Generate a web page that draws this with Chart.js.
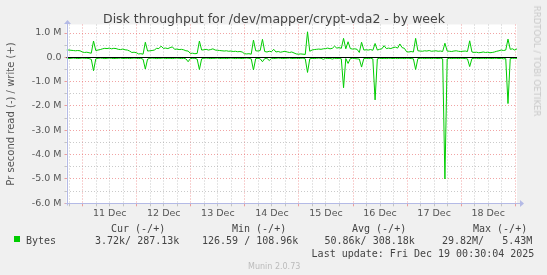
<!DOCTYPE html>
<html><head><meta charset="utf-8">
<script src="https://cdn.jsdelivr.net/npm/chart.js@4/dist/chart.umd.min.js"></script>
<style>
html,body{margin:0;padding:0;background:#f0f0f0;}
#wrap{position:relative;width:547px;height:275px;overflow:hidden;background:#f0f0f0;font-family:"DejaVu Sans",sans-serif;}
#c{position:absolute;left:0;top:0;}
.m{position:absolute;white-space:pre;font-family:"DejaVu Sans Mono",monospace;font-size:10px;line-height:12px;color:#444;}
#title{position:absolute;left:0;top:11px;width:548px;text-align:center;font-size:12.5px;line-height:15px;color:#444;white-space:pre;}
#ytitle{position:absolute;left:11px;top:114px;transform:translate(-50%,-50%) rotate(-90deg);font-size:10px;line-height:12px;color:#555;white-space:pre;}
#rrd{position:absolute;left:537px;top:61px;transform:translate(-50%,-50%) rotate(90deg);font-size:8.6px;line-height:10px;color:#c8c8c8;white-space:pre;}
#munin{position:absolute;left:248px;top:262px;font-size:8px;line-height:10px;color:#bbb;white-space:pre;}
#sq{position:absolute;left:14px;top:236px;width:6px;height:6px;background:#00cc00;}
</style>
</head><body>
<div id="wrap">
<canvas id="c" width="547" height="275"></canvas>
<div id="title">Disk throughput for /dev/mapper/crypt-vda2 - by week</div>
<div id="ytitle">Pr second read (-) / write (+)</div>
<div id="rrd">RRDTOOL / TOBI OETIKER</div>
<div id="sq"></div>
<div id="munin">Munin 2.0.73</div>
</div>
<script>
// hours relative to 11 Dec 00:00 of the first sample, one sample per hour
const START_H = -7.2;
const END_H = 192.8;
const dayLabels = ['11 Dec','12 Dec','13 Dec','14 Dec','15 Dec','16 Dec','17 Dec','18 Dec'];
const yTickLabels = ['-6.0 M','-5.0 M','-4.0 M','-3.0 M','-2.0 M','-1.0 M','0.0','1.0 M'];
const headers = ['Cur (-/+)','Min (-/+)','Avg (-/+)','Max (-/+)'];
const seriesName = 'Bytes';
const stats = ['3.72k/ 287.13k','126.59 / 108.96k','50.86k/ 308.18k','29.82M/   5.43M'];
const lastUpdate = 'Last update: Fri Dec 19 00:30:04 2025';

// write (+), MB/s
const writeVals = [
0.30,0.30,0.29,0.28,0.27,0.28,0.27,
0.22,0.20,0.21,0.19,0.17,
0.67,
0.28,0.30,0.32,0.35,
0.37,0.36,0.38,0.35,0.37,0.36,
0.33,0.32,0.34,0.31,0.30,
0.26,
0.20,0.21,0.19,
0.14,0.15,0.13,
0.62,
0.26,
0.27,0.28,0.30,
0.37,0.36,
0.46,
0.37,0.38,0.36,0.40,
0.43,
0.33,0.34,0.32,0.33,0.31,
0.27,0.26,
0.16,0.17,0.15,0.16,
0.67,
0.30,0.31,0.33,0.30,0.32,0.35,
0.30,0.29,0.28,0.27,0.26,0.27,0.25,0.26,0.24,0.25,0.23,0.24,0.22,
0.15,0.14,0.15,0.13,
0.71,
0.27,0.26,0.28,
0.74,
0.24,0.22,0.25,0.23,
0.33,
0.22,0.24,0.21,0.23,0.25,0.22,0.20,0.22,0.18,0.14,0.13,
0.14,0.13,0.12,
1.05,
0.25,0.30,0.32,0.33,0.34,0.33,0.35,
0.36,0.38,0.35,0.37,0.46,0.38,0.40,0.37,
0.78,
0.35,
0.64,
0.36,0.34,0.35,0.33,0.20,
0.62,
0.30,0.31,0.30,0.32,0.29,
0.57,
0.30,0.33,0.35,0.48,0.36,0.38,0.36,
0.40,0.42,0.38,0.55,0.40,0.37,
0.23,0.22,0.24,0.22,
0.78,
0.27,0.26,0.25,0.27,0.26,0.28,0.25,0.26,0.27,0.25,0.26,0.24,
0.58,
0.26,0.25,0.24,0.26,0.27,0.25,0.24,0.25,0.26,0.24,
0.68,
0.22,0.20,0.21,0.19,0.20,0.22,0.20,0.21,0.19,0.20,0.22,0.25,0.27,
0.30,0.28,0.30,
0.75,
0.33,0.35,0.30,0.35
];
// read (-), MB/s
const readVals = [
-0.04,-0.05,-0.04,-0.03,-0.04,-0.05,-0.04,-0.03,-0.04,-0.04,
-0.05,-0.08,-0.55,-0.06,-0.04,-0.03,-0.04,-0.05,-0.04,-0.03,
-0.04,-0.05,-0.04,-0.04,-0.03,-0.05,-0.04,-0.04,-0.05,-0.04,
-0.03,-0.04,-0.05,-0.04,-0.08,-0.48,-0.07,-0.04,-0.03,-0.04,
-0.05,-0.04,-0.04,-0.03,-0.05,-0.04,-0.04,-0.05,-0.04,-0.03,
-0.04,-0.05,-0.04,-0.06,-0.18,-0.05,-0.04,-0.04,-0.07,-0.50,
-0.06,-0.04,-0.03,-0.04,-0.05,-0.04,-0.04,-0.03,-0.05,-0.04,
-0.04,-0.05,-0.04,-0.03,-0.04,-0.05,-0.04,-0.04,-0.05,-0.04,
-0.03,-0.04,-0.06,-0.52,-0.05,-0.04,-0.06,-0.18,-0.05,-0.04,
-0.13,-0.04,-0.05,-0.04,-0.03,-0.04,-0.05,-0.04,-0.04,-0.03,
-0.05,-0.04,-0.04,-0.05,-0.04,-0.03,-0.06,-0.62,-0.06,-0.04,
-0.05,-0.04,-0.03,-0.04,-0.08,-0.04,-0.05,-0.04,-0.07,-0.04,
-0.05,-0.04,-0.06,-1.25,-0.05,-0.25,-0.05,-0.04,-0.05,-0.06,
-0.07,-0.40,-0.05,-0.04,-0.05,-0.04,-0.06,-1.75,-0.06,-0.04,
-0.05,-0.04,-0.05,-0.04,-0.04,-0.05,-0.04,-0.05,-0.04,-0.04,
-0.05,-0.04,-0.04,-0.05,-0.06,-0.50,-0.05,-0.04,-0.04,-0.05,
-0.04,-0.04,-0.05,-0.04,-0.04,-0.05,-0.04,-0.06,-5.00,-0.06,
-0.04,-0.05,-0.04,-0.04,-0.05,-0.04,-0.04,-0.05,-0.06,-0.38,
-0.05,-0.04,-0.04,-0.05,-0.04,-0.04,-0.05,-0.04,-0.04,-0.05,
-0.04,-0.04,-0.05,-0.04,-0.06,-0.05,-1.90,-0.05,-0.04,-0.04,
-0.04
];

// text rows
const wrap = document.getElementById('wrap');
function addText(txt, left, cy){
  const d = document.createElement('div'); d.className='m'; d.textContent = txt;
  d.style.left = left+'px'; d.style.top = (cy-6)+'px'; wrap.appendChild(d);
}
const headerX = [111,232,352,473];
const statX = [95,202,324.5,442];
headers.forEach((h,i)=>addText(h, headerX[i], 229));
addText(seriesName, 26, 241.4);
stats.forEach((s,i)=>addText(s, statX[i], 241.4));
addText(lastUpdate, 311.6, 254.3);

const GREEN = '#00cc00';
const MAJOR = 'rgba(230,90,90,0.55)';
const MINOR = 'rgba(150,150,150,0.5)';
const AXIS = '#b4bae6';

const toPts = arr => arr.map((v,i)=>({x: START_H + i, y: v}));

const muninPlugin = {
  id:'munin',
  beforeDraw(chart){
    const {ctx, chartArea:a} = chart;
    ctx.save(); ctx.fillStyle='#fff';
    ctx.fillRect(a.left, a.top, a.right-a.left, a.bottom-a.top);
    ctx.restore();
  },
  afterDatasetsDraw(chart){
    const {ctx, chartArea:a, scales} = chart;
    const y0 = Math.round(scales.y.getPixelForValue(0)) + 0.5;
    ctx.save();
    ctx.strokeStyle = '#000'; ctx.lineWidth = 1.2;
    ctx.beginPath(); ctx.moveTo(a.left, y0); ctx.lineTo(a.right, y0); ctx.stroke();
    // axes with arrows
    ctx.lineWidth = 1;
    const xl = Math.round(a.left)+0.5, yb = Math.round(a.bottom)+0.5;
    ctx.strokeStyle = AXIS; ctx.fillStyle = AXIS;
    ctx.beginPath(); ctx.moveTo(xl, yb+2); ctx.lineTo(xl, a.top-1); ctx.stroke();
    ctx.beginPath(); ctx.moveTo(xl-3.5, a.top-0.5); ctx.lineTo(xl, a.top-4.5); ctx.lineTo(xl+3.5, a.top-0.5); ctx.closePath(); ctx.fill();
    ctx.beginPath(); ctx.moveTo(xl-2, yb); ctx.lineTo(a.right+3, yb); ctx.stroke();
    ctx.beginPath(); ctx.moveTo(a.right+3, yb-3.5); ctx.lineTo(a.right+7, yb); ctx.lineTo(a.right+3, yb+3.5); ctx.closePath(); ctx.fill();
    ctx.restore();
  }
};

new Chart(document.getElementById('c'), {
  type:'line',
  data:{datasets:[
    {label:'write', data: toPts(writeVals), borderColor:GREEN, borderWidth:1, pointRadius:0, tension:0, fill:false},
    {label:'read', data: toPts(readVals), borderColor:GREEN, borderWidth:1, pointRadius:0, tension:0, fill:false}
  ]},
  options:{
    responsive:false, animation:false, devicePixelRatio:1,
    layout:{padding:{left:0, top:24.5, right:30, bottom:55.7}},
    plugins:{legend:{display:false}, tooltip:{enabled:false}},
    scales:{
      x:{
        type:'linear', min:START_H, max:END_H,
        afterFit(s){ s.height = 16; },
        afterBuildTicks(s){ const t=[]; for(let v=-6; v<=192; v+=6) t.push({value:v}); s.ticks=t; },
        ticks:{
          autoSkip:false, maxRotation:0, padding:1.5, color:'#555',
          font:{family:'"DejaVu Sans"', size:9.5},
          callback(v){ const r=((v%24)+24)%24; if(r===12){ const i=(v-12)/24; return dayLabels[i]||''; } return ''; }
        },
        grid:{ color(c){ return (((c.tick.value%24)+24)%24===0)?MAJOR:MINOR; }, lineWidth:1, tickLength:3, drawTicks:true },
        border:{display:false, dash:[1,2]}
      },
      y:{
        type:'linear', min:-6, max:1.35,
        afterFit(s){ s.width = 66.5; },
        afterBuildTicks(s){ const t=[]; for(let v=-6; v<=1.001; v+=0.5) t.push({value:Math.round(v*2)/2}); s.ticks=t; },
        ticks:{
          autoSkip:false, padding:3, color:'#555',
          font:{family:'"DejaVu Sans"', size:9.5},
          callback(v){ if(Number.isInteger(v)) return yTickLabels[v+6]; return ''; }
        },
        grid:{ color(c){ return Number.isInteger(c.tick.value)?MAJOR:MINOR; }, lineWidth:1, tickLength:2, drawTicks:true },
        border:{display:false, dash:[1,2]}
      }
    }
  },
  plugins:[muninPlugin]
});
</script>
</body></html>
